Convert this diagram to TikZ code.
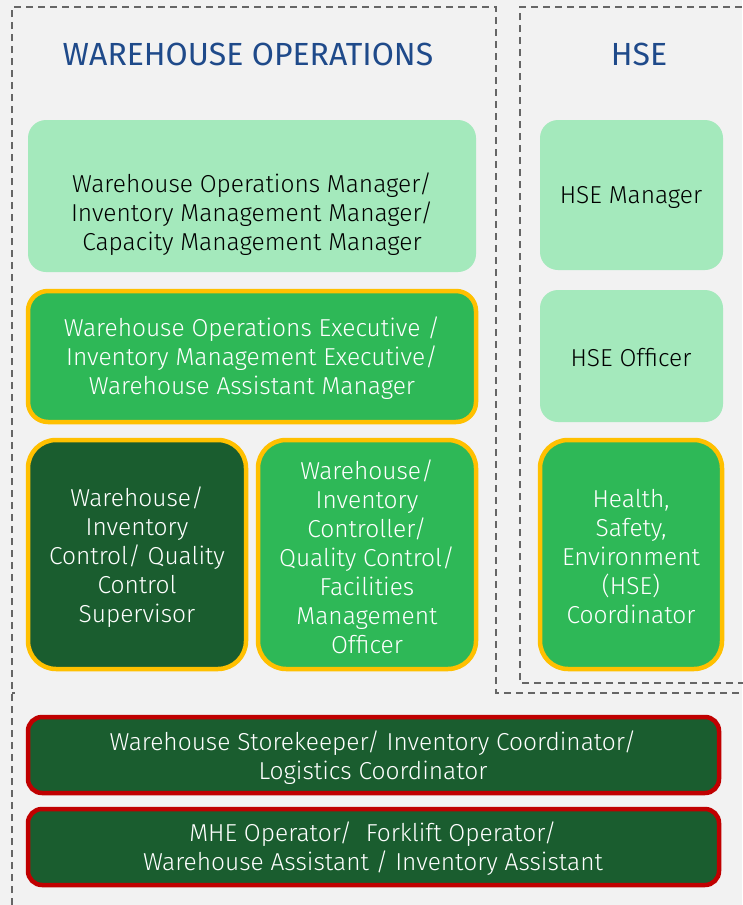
\documentclass[tikz,border=0pt]{standalone}
\usepackage{fontspec}
\setmainfont{Fira Sans Light}
\newfontfamily\headfont{Fira Sans}
\begin{document}
\begin{tikzpicture}[x=1pt,y=-1pt,
  lbl/.style={align=center,font=\fontsize{24.5}{29}\selectfont},
  lightbox/.style={fill=lightg,draw=none,rounded corners=18pt},
  midbox/.style={fill=midg,draw=yel,line width=4.5pt,rounded corners=20pt},
  darkbox/.style={fill=darkg,draw=yel,line width=4.5pt,rounded corners=28pt},
  redbox/.style={fill=darkg,draw=redc,line width=4.5pt,rounded corners=14pt},
  dashframe/.style={draw=dashc,line width=1.6pt,dash pattern=on 7pt off 5pt},
  head/.style={text=headc,font=\headfont\fontsize{32}{35}\selectfont}]
\definecolor{bg}{HTML}{F2F2F2}
\definecolor{lightg}{HTML}{A4E9BC}
\definecolor{midg}{HTML}{2EB857}
\definecolor{darkg}{HTML}{1A5D2F}
\definecolor{yel}{HTML}{FFC000}
\definecolor{redc}{HTML}{C00000}
\definecolor{dashc}{HTML}{666666}
\definecolor{headc}{HTML}{1F4A8A}
\fill[bg] (0,0) rectangle (742,905);
\useasboundingbox (0,0) rectangle (742,905);
% dashed frames
\draw[dashframe] (12,905) -- (12,7) -- (496,7) -- (496,693) -- (745,693);
\draw[dashframe] (12,693) -- (15,693);
\draw[dashframe] (745,683) -- (520,683) -- (520,7) -- (745,7);
% headings
\node[head] (hwo) at (248,54) {WAREHOUSE OPERATIONS};
\node[head] (hhse) at (639,54) {HSE};
% boxes
\path[lightbox] (28,120) rectangle (476,272);
\node[lbl,text=black] (b1) at (252,214) {Warehouse Operations Manager/\\Inventory Management Manager/\\Capacity Management Manager};
\path[midbox] (28,291) rectangle (476,422);
\node[lbl,text=white] (b2) at (252,358) {Warehouse Operations Executive /\\Inventory Management Executive/\\Warehouse Assistant Manager};
\path[darkbox] (28,440) rectangle (246,669);
\node[lbl,text=white] (b3) at (137,557) {Warehouse/\\Inventory\\Control/ Quality\\Control\\Supervisor};
\path[darkbox,fill=midg] (258,440) rectangle (476,669);
\node[lbl,text=white] (b4) at (367,557) {Warehouse/\\Inventory\\Controller/\\Quality Control/\\Facilities\\Management\\Officer};
\path[lightbox] (540,120) rectangle (723,270);
\node[lbl,text=black] (h1) at (631,197) {HSE Manager};
\path[lightbox] (540,290) rectangle (723,422);
\node[lbl,text=black] (h2) at (631,358) {HSE Officer};
\path[darkbox,fill=midg] (540,440) rectangle (722,669);
\node[lbl,text=white] (h3) at (631,557) {Health,\\Safety,\\Environment\\(HSE)\\Coordinator};
\path[redbox] (28,717) rectangle (719,793);
\node[lbl,text=white] (r1) at (373,758) {Warehouse Storekeeper/ Inventory Coordinator/\\Logistics Coordinator};
\path[redbox] (28,809) rectangle (719,885);
\node[lbl,text=white] (r2) at (373,849) {MHE Operator/\ \ Forklift Operator/\\Warehouse Assistant / Inventory Assistant};
\end{tikzpicture}
\end{document}
